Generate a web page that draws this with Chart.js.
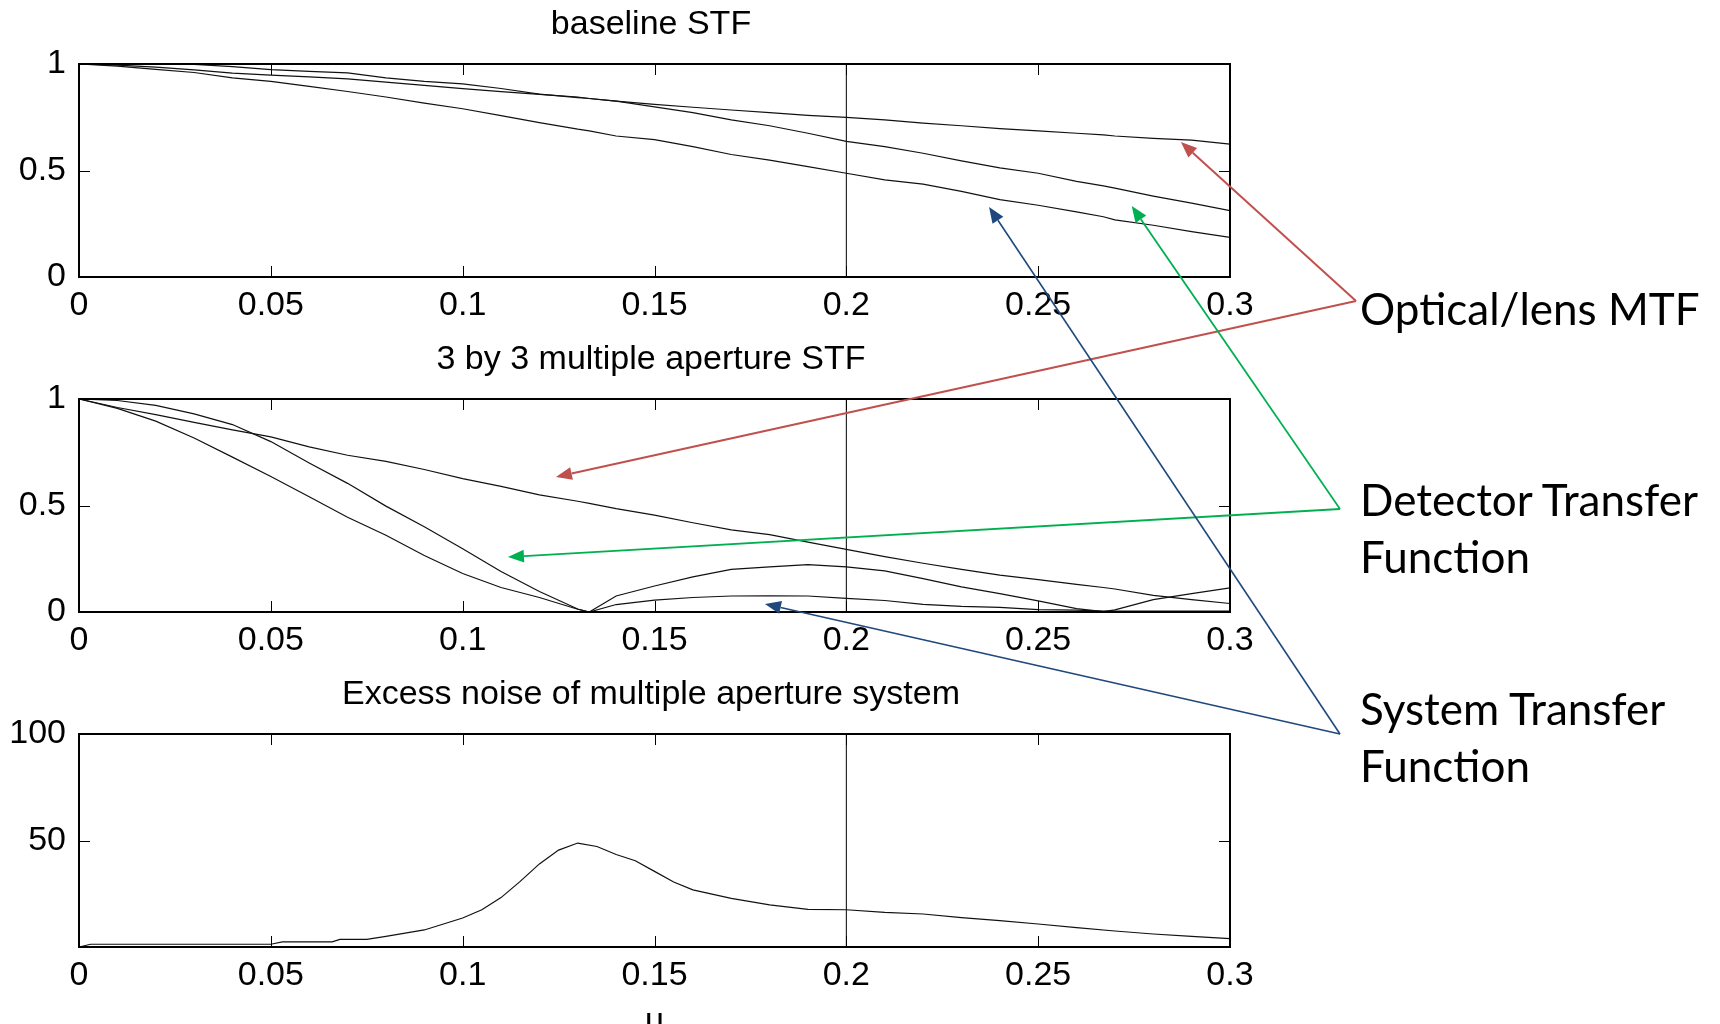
<!DOCTYPE html>
<html>
<head>
<meta charset="utf-8">
<script src="https://cdn.jsdelivr.net/npm/chart.js@4.4.0/dist/chart.umd.min.js"></script>
<style>
  html, body { margin: 0; padding: 0; background: #fff; }
  #page { position: relative; width: 1720px; height: 1024px; overflow: hidden; background: #fff; }
  canvas.panel { position: absolute; left: 0; }
  #overlay { position: absolute; left: 0; top: 0; z-index: 5; pointer-events: none; }
  .note { position: absolute; left: 1360px; font-family: Lato, 'Open Sans', sans-serif; font-size: 44px;
          line-height: 56.5px; color: #000; white-space: nowrap; z-index: 6; }
</style>
</head>
<body>
<div id="page">
  <canvas id="stfBase" class="panel" width="1302" height="335" style="top:0px"></canvas>
  <canvas id="stfMulti" class="panel" width="1302" height="335" style="top:335px"></canvas>
  <canvas id="noise" class="panel" width="1302" height="400" style="top:670px"></canvas>
  <canvas id="overlay" width="1720" height="1024"></canvas>
  <div class="note" style="top:280px">Optical/lens MTF</div>
  <div class="note" style="top:471px">Detector Transfer<br>Function</div>
  <div class="note" style="top:680px">System Transfer<br>Function</div>
</div>
<script>
// spatial frequency samples (cycles/pixel)
const U = [0, 0.01, 0.02, 0.03, 0.04, 0.05, 0.06, 0.07, 0.08, 0.09, 0.1, 0.11, 0.12, 0.13, 0.133,
           0.14, 0.15, 0.16, 0.17, 0.18, 0.19, 0.2, 0.21, 0.22, 0.23, 0.24, 0.25, 0.26, 0.267,
           0.27, 0.28, 0.29, 0.3];

// baseline STF
const baseOptical  = [1, 1, 1, 0.998, 0.988, 0.974, 0.965, 0.958, 0.935, 0.918, 0.907, 0.885, 0.859, 0.842, 0.838,
                      0.826, 0.81, 0.797, 0.784, 0.772, 0.759, 0.749, 0.738, 0.722, 0.71, 0.697, 0.686, 0.675, 0.667,
                      0.662, 0.651, 0.643, 0.624];
const baseDetector = [1, 0.995, 0.985, 0.972, 0.957, 0.948, 0.94, 0.93, 0.915, 0.9, 0.884, 0.87, 0.857, 0.845, 0.838,
                      0.826, 0.799, 0.772, 0.738, 0.71, 0.675, 0.637, 0.612, 0.581, 0.545, 0.512, 0.487, 0.449, 0.428,
                      0.417, 0.38, 0.347, 0.312];
const baseSystem   = [1, 0.99, 0.975, 0.96, 0.935, 0.918, 0.895, 0.871, 0.845, 0.816, 0.79, 0.758, 0.725, 0.694, 0.686,
                      0.662, 0.645, 0.612, 0.575, 0.549, 0.518, 0.487, 0.456, 0.436, 0.402, 0.363, 0.337, 0.306, 0.283,
                      0.268, 0.243, 0.213, 0.186];

// 3 by 3 multiple aperture STF
const multiOptical  = [1, 0.96, 0.927, 0.89, 0.855, 0.822, 0.775, 0.736, 0.707, 0.669, 0.626, 0.59, 0.55, 0.52, 0.51,
                       0.485, 0.455, 0.419, 0.386, 0.363, 0.328, 0.294, 0.26, 0.229, 0.2, 0.173, 0.152, 0.13, 0.115,
                       0.108, 0.078, 0.058, 0.04];
const multiDetector = [1, 0.993, 0.97, 0.93, 0.88, 0.8, 0.7, 0.604, 0.497, 0.4, 0.297, 0.19, 0.096, 0.014, 0,
                       0.075, 0.122, 0.165, 0.2, 0.212, 0.222, 0.212, 0.193, 0.157, 0.118, 0.086, 0.052, 0.016, 0.002,
                       0.01, 0.058, 0.086, 0.113];
const multiSystem   = [1, 0.956, 0.896, 0.817, 0.727, 0.636, 0.541, 0.445, 0.36, 0.265, 0.181, 0.115, 0.068, 0.013, 0,
                       0.035, 0.056, 0.068, 0.075, 0.076, 0.075, 0.064, 0.054, 0.036, 0.026, 0.022, 0.011, 0.009, 0.004,
                       0.004, 0.004, 0.004, 0.004];

// excess noise of multiple aperture system
const noiseU   = [0, 0.003, 0.05, 0.053, 0.066, 0.068, 0.075, 0.08, 0.09, 0.1, 0.105, 0.11, 0.115, 0.12, 0.125,
                  0.13, 0.135, 0.14, 0.145, 0.15, 0.155, 0.16, 0.17, 0.18, 0.19, 0.2, 0.21, 0.22, 0.23, 0.24,
                  0.25, 0.26, 0.27, 0.28, 0.29, 0.3];
const noiseVal = [0, 1.3, 1.3, 2.4, 2.4, 3.6, 3.6, 5, 8, 13.6, 17.5, 23.2, 30.8, 39, 45.5,
                  48.8, 47.2, 43.4, 40.5, 35.5, 30.5, 26.8, 22.8, 19.8, 17.7, 17.5, 16.3, 15.5, 13.8, 12.4,
                  10.8, 9.1, 7.5, 6.1, 5, 3.9];

const xTicks = [0, 0.05, 0.1, 0.15, 0.2, 0.25, 0.3];
const stfTicks = [0, 0.5, 1];
const noiseTicks = [50, 100];
const markerU = 0.2;

const FONT = 'Liberation Sans, Arial, Helvetica, sans-serif';
const TICK = 11;

// MATLAB style box with inward ticks on all four sides
const frameBox = {
    id: 'frameBox',
    afterDatasetsDraw(chart) {
        const { ctx, chartArea: a, scales: { x, y } } = chart;
        ctx.save();
        ctx.strokeStyle = '#000';
        ctx.lineWidth = 1;
        ctx.beginPath();
        x.ticks.forEach(t => {
            const px = Math.round(x.getPixelForValue(t.value)) + 0.5;
            ctx.moveTo(px, a.bottom); ctx.lineTo(px, a.bottom - TICK);
            ctx.moveTo(px, a.top); ctx.lineTo(px, a.top + TICK);
        });
        y.ticks.forEach(t => {
            const py = Math.round(y.getPixelForValue(t.value)) + 0.5;
            ctx.moveTo(a.left, py); ctx.lineTo(a.left + TICK, py);
            ctx.moveTo(a.right, py); ctx.lineTo(a.right - TICK, py);
        });
        ctx.stroke();
        ctx.lineWidth = 2;
        ctx.strokeRect(a.left, a.top, a.right - a.left, a.bottom - a.top);
        ctx.restore();
    }
};

function line(xs, ys) {
    return {
        data: xs.map((u, i) => ({ x: u, y: ys[i] })),
        borderColor: '#111',
        borderWidth: 1.2,
        pointRadius: 0,
        tension: 0
    };
}

function makePanel(id, title, series, yMin, yMax, yTicks, xAxisHeight, xTitle) {
    const datasets = series.map(s => line(s[0], s[1]));
    // vertical marker at u = 0.2
    datasets.push({
        data: [{ x: markerU, y: yMin }, { x: markerU, y: yMax }],
        borderColor: '#000', borderWidth: 1, pointRadius: 0
    });
    return new Chart(document.getElementById(id), {
        type: 'line',
        data: { datasets: datasets },
        options: {
            responsive: false,
            animation: false,
            layout: { padding: 0 },
            plugins: {
                legend: { display: false },
                tooltip: { enabled: false },
                title: {
                    display: true,
                    text: title,
                    color: '#000',
                    font: { family: FONT, size: 34, weight: 'normal' },
                    padding: { top: 4, bottom: 19.2 }
                }
            },
            scales: {
                x: {
                    type: 'linear',
                    min: 0, max: 0.3,
                    afterBuildTicks: s => { s.ticks = xTicks.map(v => ({ value: v })); },
                    afterFit: s => { s.height = xAxisHeight; },
                    ticks: {
                        color: '#000', font: { family: FONT, size: 34 }, padding: 0,
                        autoSkip: false, maxRotation: 0,
                        callback: v => String(v)
                    },
                    grid: { display: false },
                    border: { display: false },
                    title: xTitle ? {
                        display: true, text: xTitle, color: '#000',
                        font: { family: FONT, size: 34 }, padding: { top: 0, bottom: 28 }
                    } : { display: false }
                },
                y: {
                    type: 'linear',
                    min: yMin, max: yMax,
                    afterBuildTicks: s => { s.ticks = yTicks.map(v => ({ value: v })); },
                    afterFit: s => { s.width = 79; },
                    ticks: {
                        color: '#000', font: { family: FONT, size: 34 }, padding: 5,
                        callback: v => String(v)
                    },
                    grid: { display: false },
                    border: { display: false }
                },
                // empty right-hand strip so the title centres on the whole figure
                yRight: {
                    type: 'linear',
                    position: 'right',
                    afterFit: s => { s.width = 72; },
                    ticks: { display: false },
                    grid: { display: false },
                    border: { display: false }
                }
            }
        },
        plugins: [frameBox]
    });
}

const baseChart = makePanel('stfBase', 'baseline STF',
    [[U, baseOptical], [U, baseDetector], [U, baseSystem]], 0, 1, stfTicks, 58);
const multiChart = makePanel('stfMulti', '3 by 3 multiple aperture STF',
    [[U, multiOptical], [U, multiDetector], [U, multiSystem]], 0, 1, stfTicks, 58);
const noiseChart = makePanel('noise', 'Excess noise of multiple aperture system',
    [[noiseU, noiseVal]], 0, 100, noiseTicks, 123, 'u');

// annotation arrows: start next to the label, tip on a curve (data coords)
const callouts = [
    { color: '#C0504D', width: 2, from: [1356, 301],
      tips: [[baseChart, 0.2872, 0.634], [multiChart, 0.1243, 0.634]] },
    { color: '#00B050', width: 1.8, from: [1340, 509],
      tips: [[baseChart, 0.2744, 0.333], [multiChart, 0.1118, 0.258]] },
    { color: '#1F497D', width: 1.6, from: [1340, 734],
      tips: [[baseChart, 0.2372, 0.329], [multiChart, 0.1788, 0.038]] }
];

function drawArrow(ctx, from, to, color, w) {
    const ang = Math.atan2(to[1] - from[1], to[0] - from[0]);
    const len = 16, half = 6.5;
    const bx = to[0] - len * Math.cos(ang), by = to[1] - len * Math.sin(ang);
    ctx.strokeStyle = color;
    ctx.lineWidth = w;
    ctx.beginPath();
    ctx.moveTo(from[0], from[1]);
    ctx.lineTo(bx, by);
    ctx.stroke();
    ctx.fillStyle = color;
    ctx.beginPath();
    ctx.moveTo(to[0], to[1]);
    ctx.lineTo(bx + half * Math.sin(ang), by - half * Math.cos(ang));
    ctx.lineTo(bx - half * Math.sin(ang), by + half * Math.cos(ang));
    ctx.closePath();
    ctx.fill();
}

const octx = document.getElementById('overlay').getContext('2d');
callouts.forEach(c => {
    c.tips.forEach(([chart, u, v]) => {
        const top = chart.canvas.offsetTop;
        const tip = [chart.scales.x.getPixelForValue(u), top + chart.scales.y.getPixelForValue(v)];
        drawArrow(octx, c.from, tip, c.color, c.width);
    });
});
</script>
</body>
</html>
